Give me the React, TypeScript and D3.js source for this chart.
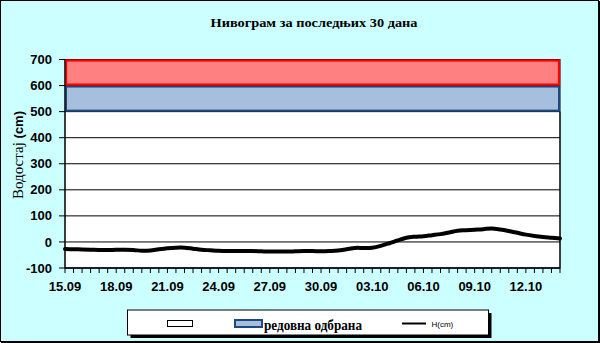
import React from "react";
import * as d3 from "d3";

const title = "Нивограм за последњих 30 дана";
const yAxisTitle = "Водостај";
const yAxisUnit = "(cm)";

// Half-day readings from 15.09 to 14.10 (59 categories)
const levels = [
  -27, -28, -29, -30, -31, -31, -30, -30, -31, -34,
  -33, -28, -24, -22, -22, -26, -30, -32, -34, -35,
  -35, -35, -35, -36, -37, -37, -37, -36, -35, -35,
  -36, -35, -33, -28, -23, -23, -22, -15, -5, 6,
  16, 20, 22, 26, 30, 36, 43, 45, 47, 49,
  52, 48, 42, 35, 28, 23, 19, 16, 13,
];

const xTickLabels = ["15.09", "18.09", "21.09", "24.09", "27.09", "30.09", "03.10", "06.10", "09.10", "12.10"];
const categoriesPerLabel = 6;
const yTicks = [-100, 0, 100, 200, 300, 400, 500, 600, 700];

const bandRegular = [500, 600];
const bandExtra = [600, 700];

const legendEntries = ["", "редовна одбрана", "H(cm)"];

const W = 600;
const H = 343;
const left = 65;
const right = 560;
const top = 59.5;
const bottom = 268;

export default function App() {
  const idx = levels.map((_, i) => i);
  const x = d3.scalePoint<number>().domain(idx).range([left, right]);
  const y = d3.scaleLinear().domain([-100, 700]).range([bottom, top]);
  const line = d3
    .line<number>()
    .x((_, i) => x(i) as number)
    .y((d) => y(d))
    .curve(d3.curveCatmullRom.alpha(0.5));

  const sans = "'Liberation Sans', Arial, sans-serif";
  const serif = "'Liberation Serif', 'Times New Roman', serif";

  return (
    <div style={{ position: "fixed", left: 0, top: 0 }}>
      <svg width={W} height={H} style={{ display: "block" }}>
        <rect x={0.5} y={0.5} width={W - 2} height={H - 2} fill="#CCFFFF" stroke="#000" strokeWidth={1} />
        <line x1={W - 1} y1={1} x2={W - 1} y2={H} stroke="#000" strokeWidth={2} />
        <line x1={1} y1={H - 1} x2={W} y2={H - 1} stroke="#000" strokeWidth={2} />

        <text x={210.5} y={26.7} textLength={207} lengthAdjust="spacingAndGlyphs" fontFamily={serif} fontWeight="bold" fontSize={13} fill="#000">
          {title}
        </text>

        {/* plot area */}
        <rect x={left} y={top} width={right - left} height={bottom - top} fill="#fff" stroke="#000" strokeWidth={1} />

        {/* gridlines */}
        {yTicks.map((t) => (
          <line key={"g" + t} x1={left} x2={right} y1={y(t)} y2={y(t)} stroke="#000" strokeWidth={1} />
        ))}

        {/* bands */}
        <rect
          x={left + 1}
          y={y(bandRegular[1]) + 1}
          width={right - left - 2}
          height={y(bandRegular[0]) - y(bandRegular[1]) - 2}
          fill="#A7BFDE"
          stroke="#1F497D"
          strokeWidth={2}
        />
        <rect
          x={left + 1}
          y={y(bandExtra[1]) + 1}
          width={right - left - 2}
          height={y(bandExtra[0]) - y(bandExtra[1]) - 2}
          fill="#FF8080"
          stroke="#FF0000"
          strokeWidth={2.2}
        />

        {/* axes */}
        <line x1={left} x2={left} y1={top} y2={bottom} stroke="#000" strokeWidth={1} />
        <line x1={left} x2={right} y1={bottom} y2={bottom} stroke="#000" strokeWidth={1} />
        <line x1={right} x2={right} y1={y(500)} y2={bottom} stroke="#000" strokeWidth={1} />

        {yTicks.map((t) => (
          <g key={"yt" + t}>
            <line x1={left - 6} x2={left} y1={y(t)} y2={y(t)} stroke="#000" strokeWidth={1} />
            <text x={52} y={y(t) + 4.6} textAnchor="end" fontFamily={sans} fontWeight="bold" fontSize={13} fill="#000">
              {t}
            </text>
          </g>
        ))}

        {idx.map((i) => (
          <line key={"xt" + i} x1={x(i)} x2={x(i)} y1={bottom} y2={bottom + 5} stroke="#000" strokeWidth={1} />
        ))}
        {xTickLabels.map((l, k) => (
          <text key={l} x={x(k * categoriesPerLabel)} y={290.5} textAnchor="middle" fontFamily={sans} fontWeight="bold" fontSize={13} fill="#000">
            {l}
          </text>
        ))}

        <text transform="translate(23,155) rotate(-90)" textAnchor="middle" fill="#000">
          <tspan fontFamily={serif} fontSize={15}>{yAxisTitle} </tspan>
          <tspan fontFamily={sans} fontWeight="bold" fontSize={13}>{yAxisUnit}</tspan>
        </text>

        {/* series line */}
        <path d={line(levels) || ""} fill="none" stroke="#000" strokeWidth={4} strokeLinejoin="round" strokeLinecap="round" />

        {/* legend */}
        <rect x={130.5} y={313} width={361} height={25} fill="#000" />
        <rect x={127.5} y={310} width={361} height={25} fill="#fff" stroke="#000" strokeWidth={1} />
        <rect x={167.5} y={320.5} width={25} height={6} fill="#fff" stroke="#000" strokeWidth={1} />
        <text x={200} y={330} fontFamily={serif} fontSize={13} fontWeight="bold">{legendEntries[0]}</text>
        <rect x={235} y={320} width={27} height={7} fill="#A7BFDE" stroke="#1F497D" strokeWidth={2} />
        <text x={264} y={330} textLength={98} lengthAdjust="spacingAndGlyphs" fontFamily={serif} fontSize={14} fontWeight="bold" fill="#000">
          {legendEntries[1]}
        </text>
        <line x1={402} x2={426} y1={323.5} y2={323.5} stroke="#000" strokeWidth={2} />
        <text x={431.5} y={326.5} fontFamily={sans} fontSize={8} fill="#000">{legendEntries[2]}</text>
      </svg>
    </div>
  );
}
